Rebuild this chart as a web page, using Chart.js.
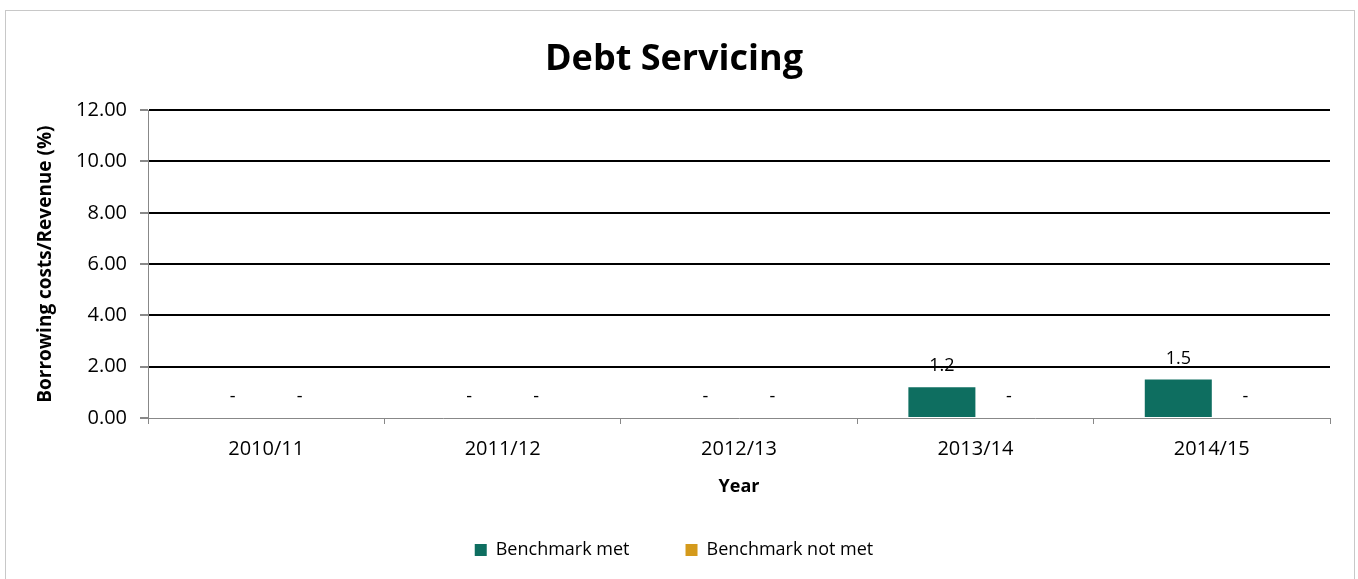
<!DOCTYPE html>
<html>
<head>
<meta charset="utf-8">
<script src="https://cdn.jsdelivr.net/npm/chart.js@4"></script>
<style>
  html, body { margin: 0; padding: 0; background: #fff; }
  #frame { position: absolute; left: 5px; top: 10px; width: 1348px; height: 600px; border: 1px solid #c8c8c8; }
  #wrap { position: absolute; left: 0; top: 0; width: 1358px; height: 579px; }
</style>
</head>
<body>
<div id="frame"></div>
<div id="wrap"><canvas id="debt-chart"></canvas></div>
<script>
const years = ['2010/11', '2011/12', '2012/13', '2013/14', '2014/15'];
const benchmarkMet = [0, 0, 0, 1.2, 1.5];
const benchmarkNotMet = [0, 0, 0, 0, 0];
const yTicks = [0, 2, 4, 6, 8, 10, 12];

const FONT = '"Open Sans", "Noto Sans", sans-serif';

// value labels above each bar, zero shown as a dash
const barLabels = {
    id: 'barLabels',
    afterDatasetsDraw(chart) {
        const ctx = chart.ctx;
        ctx.save();
        ctx.font = '18px ' + FONT;
        ctx.fillStyle = '#000';
        ctx.textAlign = 'center';
        ctx.textBaseline = 'middle';
        chart.data.datasets.forEach((ds, i) => {
            chart.getDatasetMeta(i).data.forEach((bar, j) => {
                const v = ds.data[j];
                ctx.fillText(v === 0 ? '-' : v.toFixed(1), bar.x, bar.y - 21);
            });
        });
        ctx.restore();
    }
};

new Chart(document.getElementById('debt-chart'), {
    type: 'bar',
    data: {
        labels: years,
        datasets: [
            {label: 'Benchmark met', data: benchmarkMet, backgroundColor: '#0e6e60'},
            {label: 'Benchmark not met', data: benchmarkNotMet, backgroundColor: '#d49a1c'}
        ]
    },
    options: {
        responsive: true,
        maintainAspectRatio: false,
        animation: false,
        categoryPercentage: 0.567,
        barPercentage: 1.0,
        layout: {padding: {left: 18, right: 28, top: 0, bottom: 10}},
        scales: {
            x: {
                grid: {offset: true, drawOnChartArea: false, color: '#888', tickLength: 6},
                border: {color: '#888', width: 1},
                ticks: {color: '#000', font: {family: FONT, size: 20}, padding: 13},
                title: {display: true, text: 'Year', color: '#000', font: {family: FONT, size: 18, weight: 'bold'}, padding: {top: 0, bottom: -13}},
                afterFit: scale => { scale.height = 67; }
            },
            y: {
                min: 0,
                max: 12,
                afterBuildTicks: scale => { scale.ticks = yTicks.map(v => ({value: v})); },
                grid: {
                    color: ctx => ctx.tick && ctx.tick.value === 0 ? 'rgba(0,0,0,0)' : '#000',
                    lineWidth: 2,
                    tickColor: '#888',
                    tickLength: 8
                },
                border: {color: '#888', width: 1},
                ticks: {color: '#000', font: {family: FONT, size: 20}, padding: 13, callback: v => v.toFixed(2)},
                title: {display: true, text: 'Borrowing costs/Revenue (%)', color: '#000', font: {family: FONT, size: 19, weight: 'bold'}, padding: {top: 16, bottom: 0}},
                afterFit: scale => { scale.width = 130; }
            }
        },
        plugins: {
            title: {display: true, text: 'Debt Servicing', color: '#000', font: {family: FONT, size: 36, weight: 'bold'}, padding: {top: 38, bottom: 29}},
            legend: {
                position: 'bottom',
                labels: {color: '#000', font: {family: FONT, size: 18}, boxWidth: 12, boxHeight: 12, padding: 56}
            },
            tooltip: {enabled: false}
        }
    },
    plugins: [barLabels]
});
</script>
</body>
</html>
